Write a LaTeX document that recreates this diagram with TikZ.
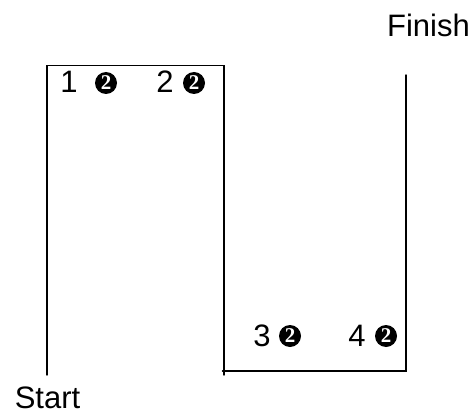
\documentclass[tikz,border=0pt]{standalone}
\usepackage{fontspec}
\setmainfont{Liberation Sans}
\newfontfamily\badgefont{Liberation Serif}
\tikzset{
  x=1pt,y=-1pt,
  route/.style={draw=black,line width=1.4pt,line cap=round,line join=miter},
  lbl/.style={inner sep=0pt,anchor=center,font=\fontsize{31pt}{32pt}\selectfont,text=black},
  badge/.style={circle,fill=black,text=white,inner sep=0pt,minimum size=22pt,font=\fontsize{21pt}{22pt}\selectfont\badgefont\bfseries}
}
\begin{document}
\begin{tikzpicture}
\useasboundingbox (0,0) rectangle (473,414);
\coordinate (startend) at (47,375);
\coordinate (topleft) at (47,65.5);
\coordinate (topright) at (224,65.5);
\coordinate (lowdrop) at (224,375);
\coordinate (botleft) at (222.5,371);
\coordinate (botright) at (406,371);
\coordinate (finishend) at (406,75);
\draw[route] (startend) -- (topleft) -- (topright) -- (lowdrop);
\draw[route] (botleft) -- (botright) -- (finishend);
\node[lbl] (start) at (47.5,398) {Start};
\node[lbl] (finish) at (428.5,25) {Finish};
\node[lbl] (n1) at (69,82) {1};
\node[badge] (b1) at (106,83) {2};
\node[lbl] (n2) at (165,82) {2};
\node[badge] (b2) at (194,83) {2};
\node[lbl] (n3) at (262,336) {3};
\node[badge] (b3) at (290,336) {2};
\node[lbl] (n4) at (357,336) {4};
\node[badge] (b4) at (386,336) {2};
\end{tikzpicture}
\end{document}
